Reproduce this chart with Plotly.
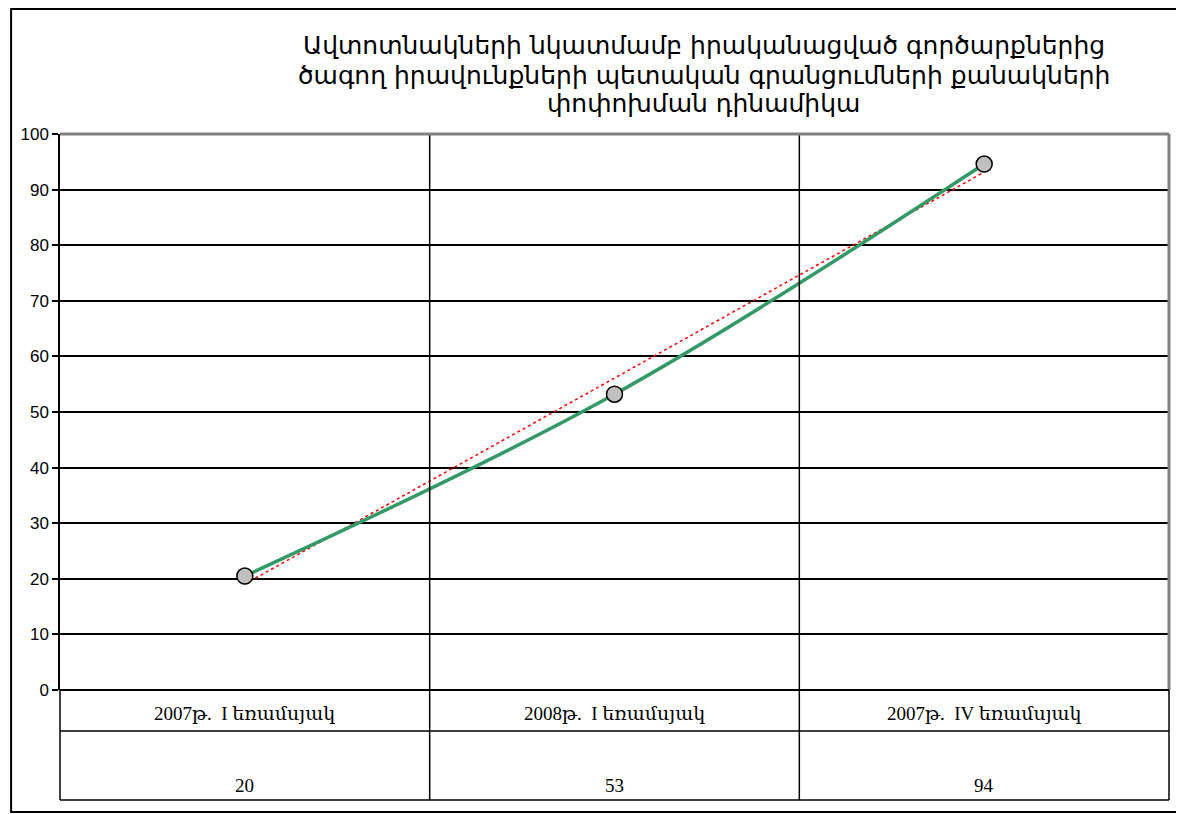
import numpy as np
import plotly.graph_objects as go

title_lines = [
    "Ավտոտնակների նկատմամբ իրականացված գործարքներից",
    "ծագող իրավունքների պետական գրանցումների քանակների",
    "փոփոխման դինամիկա",
]
categories = ["2007թ.  I եռամսյակ", "2008թ.  I եռամսյակ", "2007թ.  IV եռամսյակ"]
values = [20.5, 53.2, 94.6]
table_values = ["20", "53", "94"]
y_ticks = list(range(0, 101, 10))

# page body has an 8px margin, so the figure is drawn at (8, 8) in the window
OFF = 8
W, H = 1184 - OFF, 814 - OFF
L, R, T, B = 58 - OFF, 1184 - 1169, 134 - OFF, 814 - 690
pw, ph = W - L - R, H - T - B


def px(x):
    return (x - OFF - L) / pw


def py(y):
    return (H - B - (y - OFF)) / ph


idx = np.arange(len(values))
slope, intercept = np.polyfit(idx, values, 1)
trend = slope * idx + intercept

fig = go.Figure()
fig.add_trace(go.Scatter(
    x=categories, y=trend, mode="lines",
    line=dict(color="#ff0000", width=1.5, dash="dot"),
    hoverinfo="skip", showlegend=False,
))
fig.add_trace(go.Scatter(
    x=categories, y=values, mode="lines+markers",
    line=dict(color="#339966", width=3.5, shape="spline", smoothing=1),
    marker=dict(size=16, color="#c0c0c0", line=dict(color="#000000", width=1.5)),
    showlegend=False,
))

shapes = []
blk = "#000000"
# outer chart border
shapes.append(dict(type="rect", xref="paper", yref="paper",
                   x0=px(9), x1=px(1182), y0=py(812), y1=py(9),
                   line=dict(color=blk, width=2), layer="below"))
# vertical gridlines (category boundaries) extending through the table
for b in [0.5, 1.5]:
    shapes.append(dict(type="line", xref="x", yref="paper", x0=b, x1=b,
                       y0=py(800), y1=1, line=dict(color=blk, width=1.5)))
# left axis extension through table
shapes.append(dict(type="line", xref="paper", yref="paper", x0=0, x1=0,
                   y0=py(800), y1=0, line=dict(color=blk, width=1.5)))
# table right edge
shapes.append(dict(type="line", xref="paper", yref="paper", x0=1, x1=1,
                   y0=py(800), y1=0, line=dict(color=blk, width=1.5)))
# table horizontal lines
for yy in [731, 800]:
    shapes.append(dict(type="line", xref="paper", yref="paper", x0=0, x1=1,
                       y0=py(yy), y1=py(yy), line=dict(color=blk, width=1.5)))
# plot border top/right gray
shapes.append(dict(type="line", xref="paper", yref="paper", x0=0, x1=1,
                   y0=1, y1=1, line=dict(color="#808080", width=3)))
shapes.append(dict(type="line", xref="paper", yref="paper", x0=1, x1=1,
                   y0=0, y1=1, line=dict(color="#808080", width=3)))
# zero line
shapes.append(dict(type="line", xref="paper", yref="paper", x0=0, x1=1,
                   y0=0, y1=0, line=dict(color=blk, width=2)))

annotations = []
for line_text, ly in zip(title_lines, [45, 75, 104]):
    annotations.append(dict(
        text=line_text, xref="paper", yref="paper",
        x=px(703), y=py(ly), xanchor="center", yanchor="middle",
        showarrow=False, align="center",
        font=dict(family="DejaVu Sans", size=25, color="#000000"),
    ))
for c, v in zip(categories, table_values):
    annotations.append(dict(text=c, x=c, xref="x", yref="paper", y=py(713),
                            showarrow=False, yanchor="middle",
                            font=dict(family="Liberation Serif, DejaVu Serif", size=19, color="#000")))
    annotations.append(dict(text=v, x=c, xref="x", yref="paper", y=py(785),
                            showarrow=False, yanchor="middle",
                            font=dict(family="Liberation Serif, DejaVu Serif", size=19, color="#000")))

fig.update_layout(
    width=W, height=H,
    margin=dict(l=L, r=R, t=T, b=B, pad=0),
    paper_bgcolor="#ffffff", plot_bgcolor="#ffffff",
    shapes=shapes, annotations=annotations,
    xaxis=dict(type="category", range=[-0.5, 2.5], showticklabels=False,
               showgrid=False, zeroline=False, showline=False, ticks=""),
    yaxis=dict(range=[0, 100], tickvals=y_ticks, showgrid=True,
               gridcolor="#000000", gridwidth=1.5, zeroline=False,
               showline=True, linecolor="#000000", linewidth=1.5,
               ticks="outside", ticklen=6, tickcolor="#000000", tickwidth=1.5,
               tickfont=dict(family="Liberation Sans, Arial", size=17, color="#000")),
)

fig.write_html("out.html")
